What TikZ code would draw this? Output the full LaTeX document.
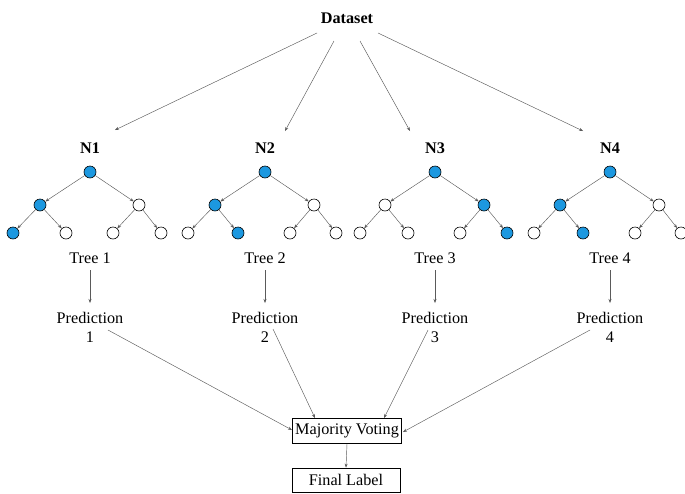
\documentclass[tikz,border=0pt]{standalone}
\usepackage{fontspec}
\setmainfont{Liberation Serif}
\usetikzlibrary{arrows.meta,calc}
\definecolor{nodeblue}{RGB}{28,152,224}
\definecolor{edgegray}{RGB}{90,90,90}
\newcommand\mktree[7]{%
  % #1 index, #2 root x, #3 root style, #4 L2 left, #5 L2 right, #6 leaf styles as s/dx/parent
  \node[#3] (r#1) at (#2,172) {};
  \node[#4] (a#1) at ($(r#1)+(-50,33)$) {};
  \node[#5] (b#1) at ($(r#1)+(49,33)$) {};
  \foreach \s/\dx/\p [count=\k] in {#6} {
    \node[\s] (l#1\k) at ($(r#1)+(\dx,61)$) {};
    \draw[ar] (\p#1) -- (l#1\k);
  }
  \draw[ar] (r#1) -- (a#1);
  \draw[ar] (r#1) -- (b#1);
  \node[txt] (t#1) at (#2,258) {Tree #1};
  \node[txt,align=center] (p#1) at (#2,327) {Prediction\\#1};
  \node[txt,font=\fontsize{16.2}{18}\selectfont\bfseries] (n#1) at (#2,148) {N#1};
  \draw[ar] ($(t#1)+(0,12)$) -- ($(p#1)+(0,-24)$);
  #7
}
\begin{document}
\begin{tikzpicture}[x=1pt,y=-1pt,
  txt/.style={font=\fontsize{16.2}{19}\selectfont, inner sep=1pt},
  cn/.style={circle, draw=black, line width=0.6pt, minimum size=12pt, inner sep=0pt, fill=white},
  bn/.style={cn, fill=nodeblue},
  ar/.style={draw=edgegray, line width=0.45pt, -{Stealth[length=4pt,width=3pt]}},
  box/.style={txt, draw=black, line width=0.7pt, minimum width=109pt, minimum height=25pt, inner sep=2pt}]
\useasboundingbox (0,0) rectangle (685,493);

\node[txt,font=\fontsize{16.2}{18}\selectfont\bfseries] (ds) at (347,18) {Dataset};

\mktree{1}{90}{bn}{bn}{cn}{bn/-77/a,cn/-24/a,cn/23/b,cn/71/b}{}
\mktree{2}{265}{bn}{bn}{cn}{cn/-77/a,bn/-27/a,cn/25/b,cn/71/b}{}
\mktree{3}{435}{bn}{cn}{bn}{cn/-75/a,cn/-27/a,cn/25/b,bn/72/b}{}
\mktree{4}{610}{bn}{bn}{cn}{cn/-76/a,bn/-27/a,cn/25/b,cn/71/b}{}

\draw[ar] ($(ds)+(-30,15)$) -- ($(n1)+(25,-18)$);
\draw[ar] ($(ds)+(-13,23)$) -- ($(n2)+(20,-17)$);
\draw[ar] ($(ds)+(13,23)$) -- ($(n3)+(-25,-17)$);
\draw[ar] ($(ds)+(31,15)$) -- ($(n4)+(-27,-17)$);

\node[box] (mv) at (347,431) {Majority Voting};
\node[box,minimum width=108pt,minimum height=24pt] (fl) at (346,480) {Final Label};

\draw[ar] ($(p1)+(18,3)$) -- ($(mv)+(-55,-1)$);
\draw[ar] ($(p2)+(8,2)$) -- ($(mv)+(-32,-13)$);
\draw[ar] ($(p3)+(-7,3)$) -- ($(mv)+(37,-13)$);
\draw[ar] ($(p4)+(-20,3)$) -- ($(mv)+(56,1)$);
\draw[ar] (mv.south) -- (fl.north);
\end{tikzpicture}
\end{document}
